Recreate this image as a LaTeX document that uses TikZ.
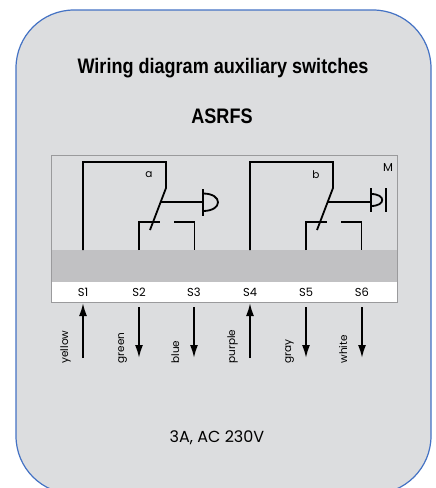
\documentclass[tikz,border=0pt]{standalone}
\usepackage{fontspec}
\setmainfont{Poppins}
\newfontfamily\titlefont[FakeStretch=0.86]{Liberation Sans}
\usetikzlibrary{arrows.meta}
\definecolor{fondo}{HTML}{DCDDDF}
\definecolor{borde}{HTML}{4472C4}
\definecolor{banda}{HTML}{C1C1C3}
\definecolor{marco}{HTML}{9A9A9C}
\begin{document}
\begin{tikzpicture}[x=1pt,y=-1pt,
    cable/.style={line width=1.8pt},
    flecha/.style={line width=1.8pt,-{Latex[length=13pt,width=8pt]}},
    colorcable/.style={rotate=90,anchor=base west,font=\fontsize{10.5}{12}\selectfont}]
    \useasboundingbox (0,0) rectangle (436,488);

    % Fondo
    \draw[borde,fill=fondo,line width=1.2pt,rounded corners=58pt] (16,10) rectangle (431,494);

    % Titulos
    \node[anchor=base,font=\titlefont\bfseries\fontsize{21}{24}\selectfont] (titulo) at (223,73) {Wiring diagram auxiliary switches};
    \node[anchor=base,font=\titlefont\bfseries\fontsize{21}{24}\selectfont] (modelo) at (222,123) {ASRFS};

    % Caja de bornes
    \fill[banda] (51,250) rectangle (397,282);
    \fill[white] (51,282) rectangle (397,302);
    \draw[marco,line width=1pt] (51,155) rectangle (397,302);

    % Bornes S1..S6
    \foreach \i/\x in {1/83,2/139,3/194,4/250,5/306,6/362} {
        \node[font=\fontsize{11.5}{13}\selectfont] (S\i) at (\x,292) {S\i};
        \coordinate (t\i) at (\x,303);
        \coordinate (e\i) at (\x,358);
    }

    % Contactos a y b
    \foreach \dx/\lab in {0/a,167/b} {
        \begin{scope}[xshift=\dx]
            \draw[cable] (83,250) |- (166,162) -- (166,188) -- (150,230);
            \draw[cable] (139,250) |- (160,222);
            \draw[cable] (174,222) -| (194.5,250);
            \draw[cable] (161,202) -- (204,202);
            \node[font=\fontsize{10.5}{12}\selectfont] (lab\lab) at (149,175) {\lab};
        \end{scope}
    }

    % Accionamientos
    \draw[cable] (203,189) -- (203,216);
    \draw[cable] (203,193.5) .. controls (223,193.5) and (223,211) .. (203,211);
    \draw[cable] (371,188) -- (371,212);
    \draw[cable] (386,188) -- (386,212);
    \draw[cable] (371,194) .. controls (386,194) and (386,206) .. (371,206);
    \node[font=\fontsize{11.5}{13}\selectfont] (M) at (388,168) {M};

    % Flechas
    \draw[flecha] (e1) -- (t1);
    \draw[flecha] (e4) -- (t4);
    \foreach \i in {2,3,5,6}
        \draw[flecha] ([yshift=-4pt]t\i) -- (e\i);

    % Colores de cables
    \foreach \i/\x/\c in {1/83/yellow,2/139/green,3/194/blue,4/250/purple,5/306/gray,6/362/white}
        \node[colorcable] (c\i) at (\x-15,367) {\c};

    \node[anchor=base,font=\fontsize{16}{19}\selectfont] (datos) at (217,442) {3A, AC 230V};
\end{tikzpicture}
\end{document}
